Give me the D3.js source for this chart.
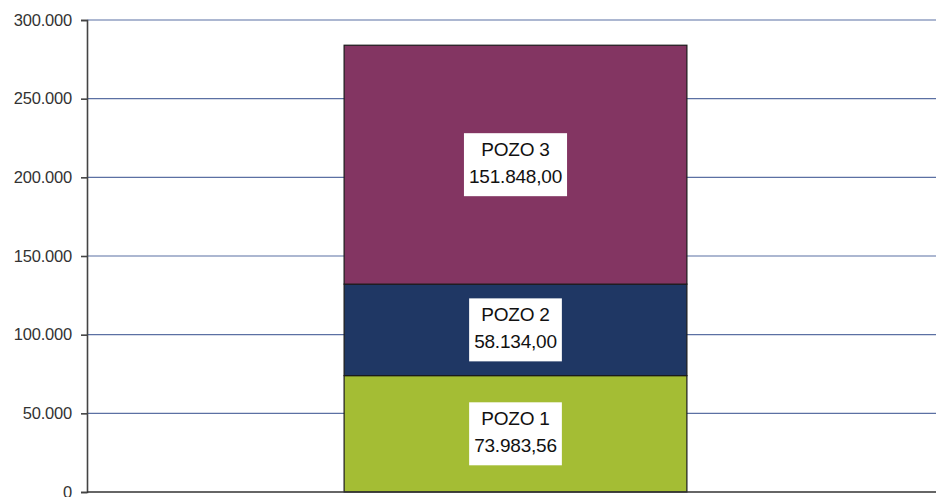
<!DOCTYPE html>
<html>
<head>
<meta charset="utf-8">
<script src="https://cdn.jsdelivr.net/npm/d3@7/dist/d3.min.js"></script>
<style>
  html, body { margin: 0; padding: 0; background: #fff; }
  svg { display: block; font-family: "Liberation Sans", Arial, sans-serif; }
</style>
</head>
<body>
<svg id="chart" width="936" height="497"></svg>
<script>
// Stacked production per well
const categories = ["Total"];
const seriesNames = ["POZO 1", "POZO 2", "POZO 3"];
const seriesValues = [73983.56, 58134.00, 151848.00];
const seriesColors = ["#a4bd34", "#1f3764", "#833562"];
const yTicks = [0, 50000, 100000, 150000, 200000, 250000, 300000];

const width = 936, height = 497;
const margin = { left: 87, top: 20, bottom: 5 };

const locale = d3.formatLocale({ decimal: ",", thousands: ".", grouping: [3], currency: ["", ""] });
const fmtTick = locale.format(",d");
const fmtVal = locale.format(",.2f");

const svg = d3.select("#chart");

const y = d3.scaleLinear().domain([0, 300000]).range([height - margin.bottom, margin.top]);
const x = d3.scaleBand().domain(categories).range([margin.left, 944]).paddingInner(0).paddingOuter(0.75);

// Horizontal gridlines
svg.append("g")
  .selectAll("line")
  .data(yTicks.filter(d => d > 0))
  .join("line")
  .attr("x1", margin.left).attr("x2", width)
  .attr("y1", d => y(d)).attr("y2", d => y(d))
  .attr("stroke", "#5b70a3").attr("stroke-width", 1.2);

// Stack the series into segments
let acc = 0;
const segments = seriesValues.map((v, i) => {
  const s = { name: seriesNames[i], value: v, y0: acc, y1: acc + v, color: seriesColors[i] };
  acc += v;
  return s;
});

const bars = svg.append("g");
bars.selectAll("rect")
  .data(segments)
  .join("rect")
  .attr("x", x(categories[0]))
  .attr("width", x.bandwidth())
  .attr("y", d => y(d.y1))
  .attr("height", d => y(d.y0) - y(d.y1))
  .attr("fill", d => d.color)
  .attr("stroke", "#1a1a1a")
  .attr("stroke-width", 1.2);

// Value labels in white boxes
const cx = x(categories[0]) + x.bandwidth() / 2;
segments.forEach(d => {
  const cy = (y(d.y0) + y(d.y1)) / 2;
  const g = svg.append("g");
  const box = g.append("rect").attr("fill", "#fff");
  const t = g.append("text")
    .attr("text-anchor", "middle")
    .attr("font-size", 19)
    .attr("letter-spacing", -0.2)
    .attr("fill", "#111");
  t.append("tspan").attr("x", cx).attr("y", cy - 9).text(d.name);
  t.append("tspan").attr("x", cx).attr("y", cy + 18).text(fmtVal(d.value));
  const bb = t.node().getBBox();
  const bw = bb.width + 10, bh = 63;
  box.attr("x", cx - bw / 2).attr("y", cy - bh / 2).attr("width", bw).attr("height", bh);
});

// Y axis
const yAxis = d3.axisLeft(y).tickValues(yTicks).tickFormat(fmtTick).tickSize(6).tickPadding(9);
const ya = svg.append("g").attr("transform", `translate(${margin.left},0)`).call(yAxis);
ya.select(".domain").attr("stroke", "#444").attr("stroke-width", 1.6);
ya.selectAll(".tick line").attr("stroke", "#444").attr("stroke-width", 1.6);
ya.selectAll(".tick text")
  .attr("font-size", 16.5)
  .attr("letter-spacing", -0.2)
  .attr("font-family", "Liberation Sans, Arial, sans-serif")
  .attr("fill", "#333");

// Baseline
svg.append("line")
  .attr("x1", margin.left).attr("x2", width)
  .attr("y1", y(0)).attr("y2", y(0))
  .attr("stroke", "#333").attr("stroke-width", 1.6);
</script>
</body>
</html>
